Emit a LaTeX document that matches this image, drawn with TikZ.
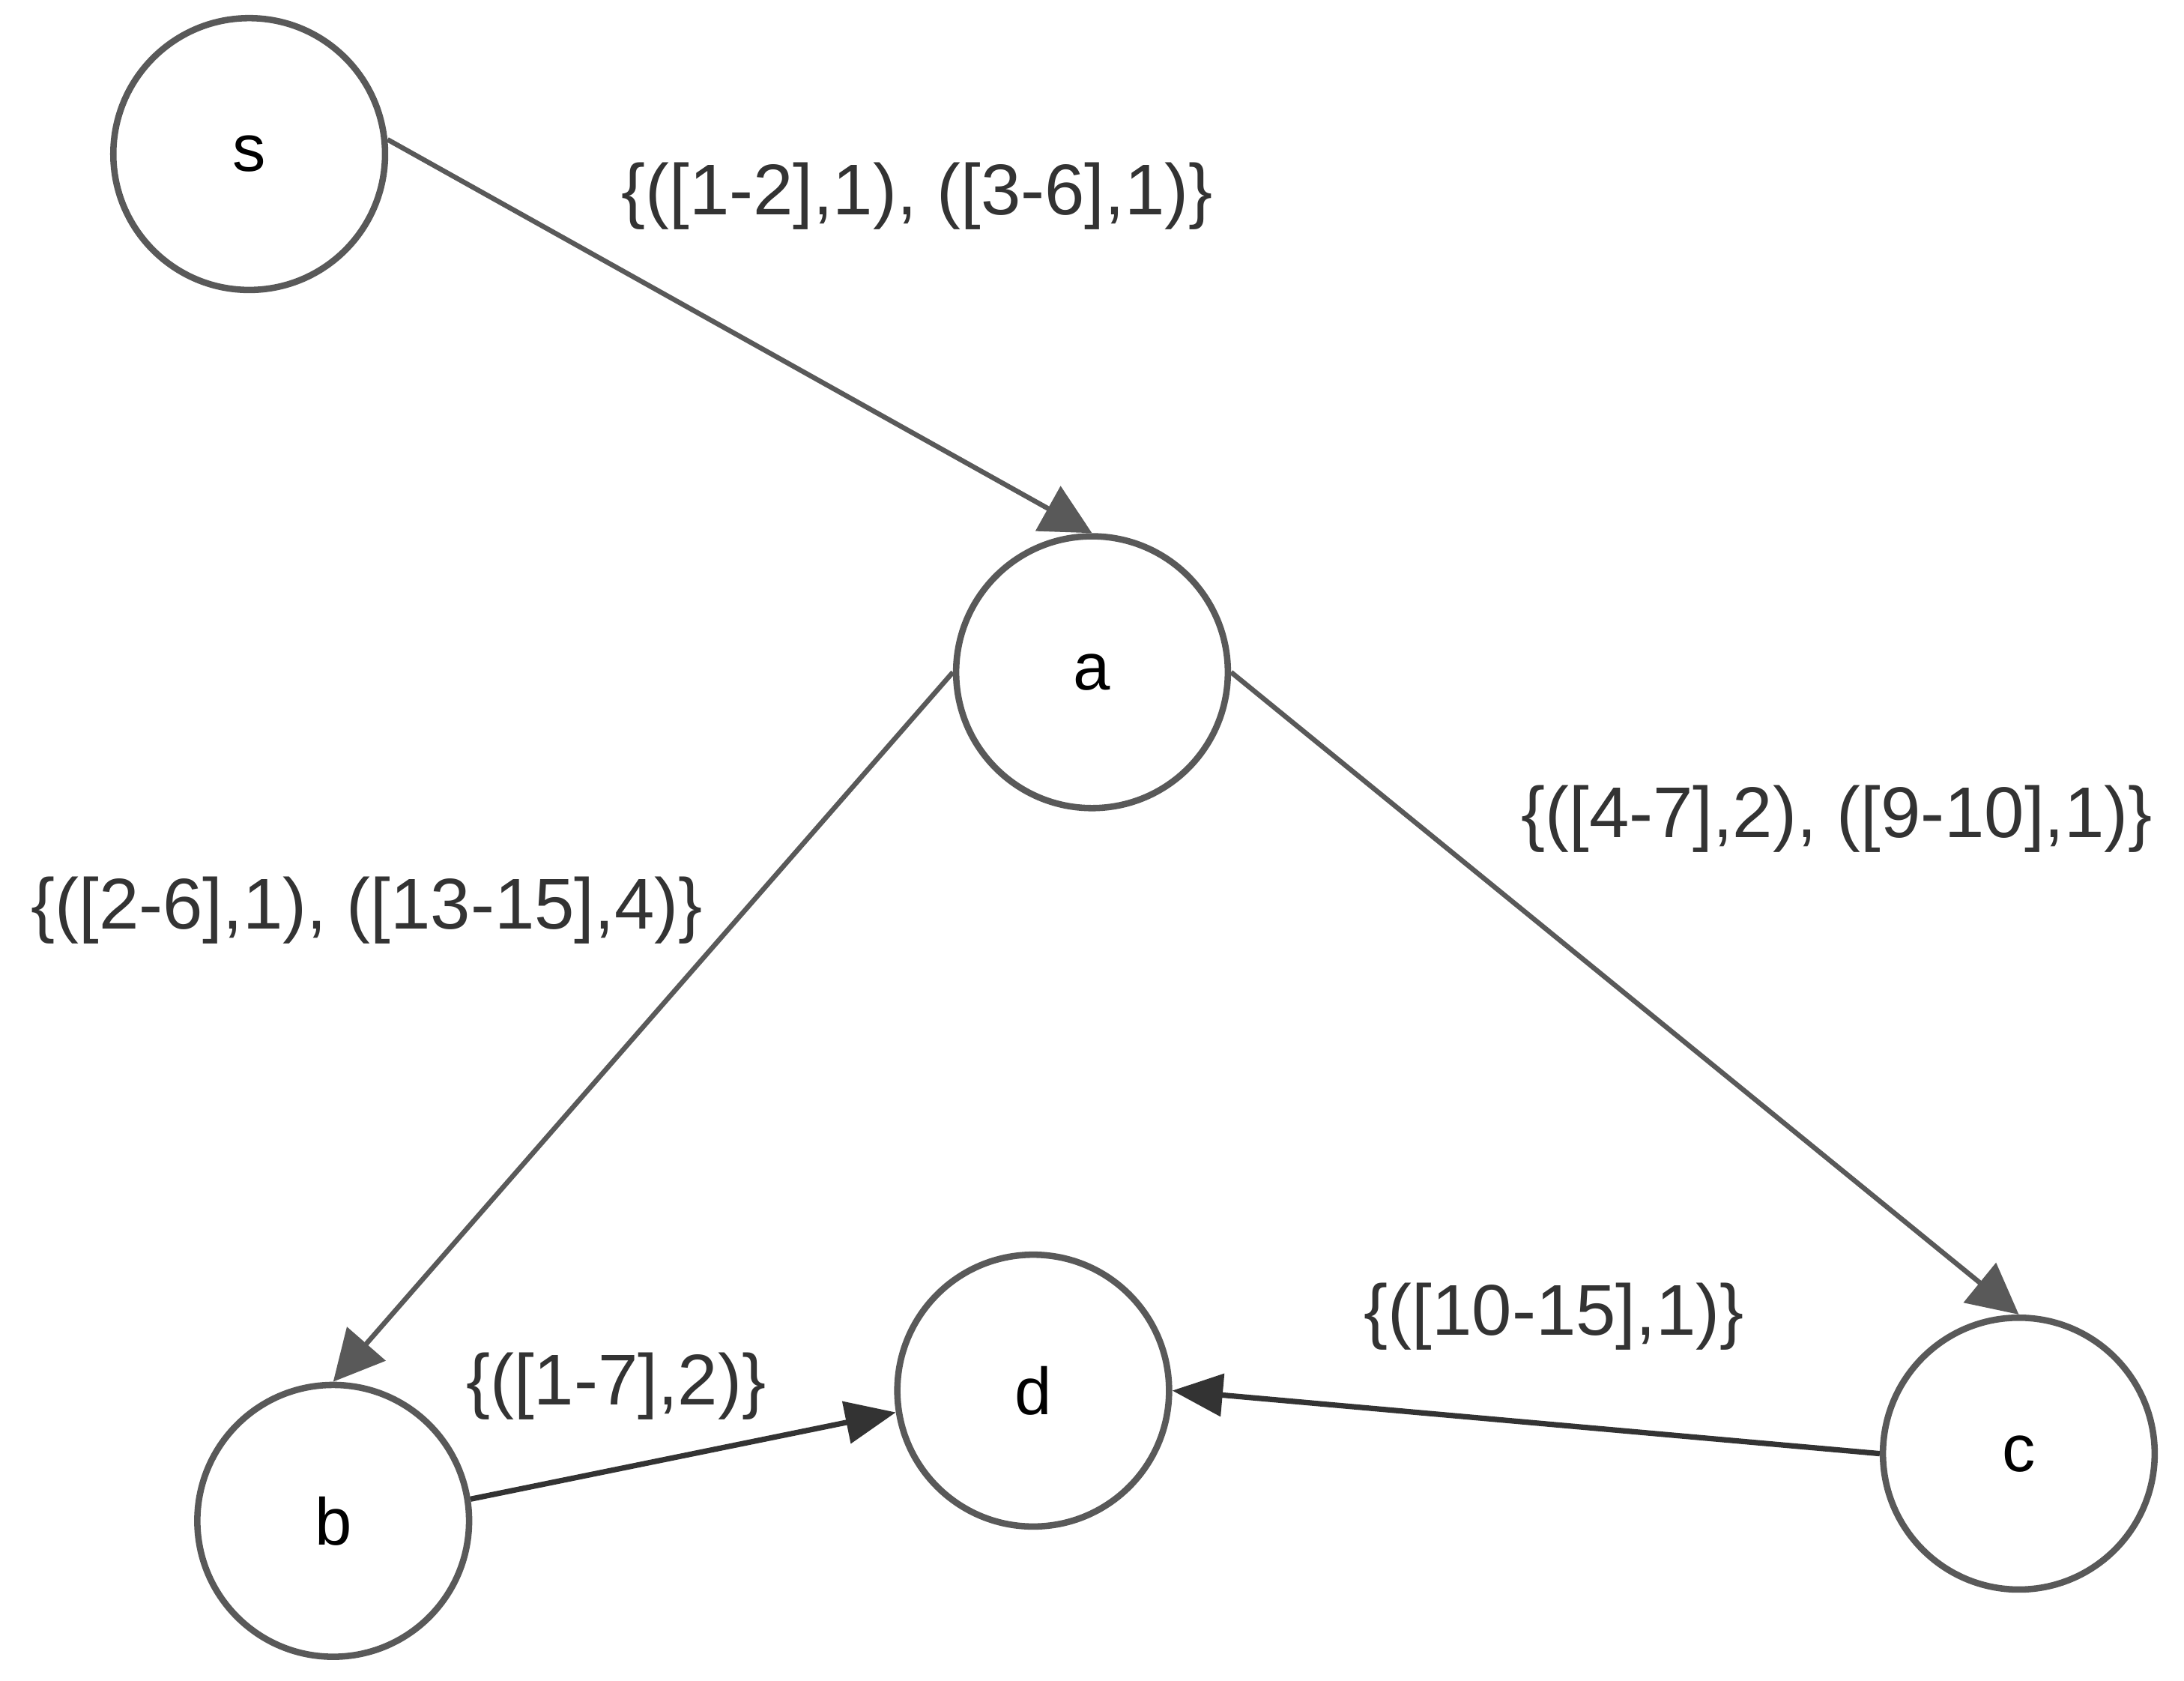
\documentclass[tikz,border=0pt]{standalone}
\usepackage{fontspec}
\setmainfont{Liberation Sans}
\usetikzlibrary{arrows.meta}
\definecolor{cgray}{HTML}{595959}
\definecolor{cdark}{HTML}{333333}
\begin{document}
\begin{tikzpicture}[x=0.01cm,y=-0.01cm,
  st/.style={circle,draw=cgray,line width=1.3pt,minimum size=1.94cm,inner sep=0pt,font=\fontsize{13.5}{15}\selectfont},
  ed/.style={draw=cgray,line width=1pt,-{Triangle[length=0.36cm,width=0.36cm]}},
  edk/.style={draw=cdark,line width=1.1pt,-{Triangle[length=0.36cm,width=0.3cm]}},
  lb/.style={font=\fontsize{14.6}{18}\selectfont,text=cdark}]
\useasboundingbox (0,0) rectangle (1560,1200);
\node[st] (s) at (178,110) {s};
\node[st] (a) at (780,480) {a};
\node[st] (b) at (238,1086) {b};
\node[st] (d) at (738,993) {d};
\node[st] (c) at (1442,1038) {c};
\draw[ed] (s.6) -- (a.north);
\draw[ed] (a.west) -- (b.north);
\draw[ed] (a.east) -- (c.north);
\draw[edk] (b.9) -- (d.189);
\draw[edk] (c.west) -- (d.east);
\node[lb] (l1) at (655,140) {\{([1-2],1), ([3-6],1)\}};
\node[lb] (l2) at (262,650) {\{([2-6],1), ([13-15],4)\}};
\node[lb] (l3) at (1312,585) {\{([4-7],2), ([9-10],1)\}};
\node[lb] (l4) at (440,990) {\{([1-7],2)\}};
\node[lb] (l5) at (1110,940) {\{([10-15],1)\}};
\end{tikzpicture}
\end{document}
